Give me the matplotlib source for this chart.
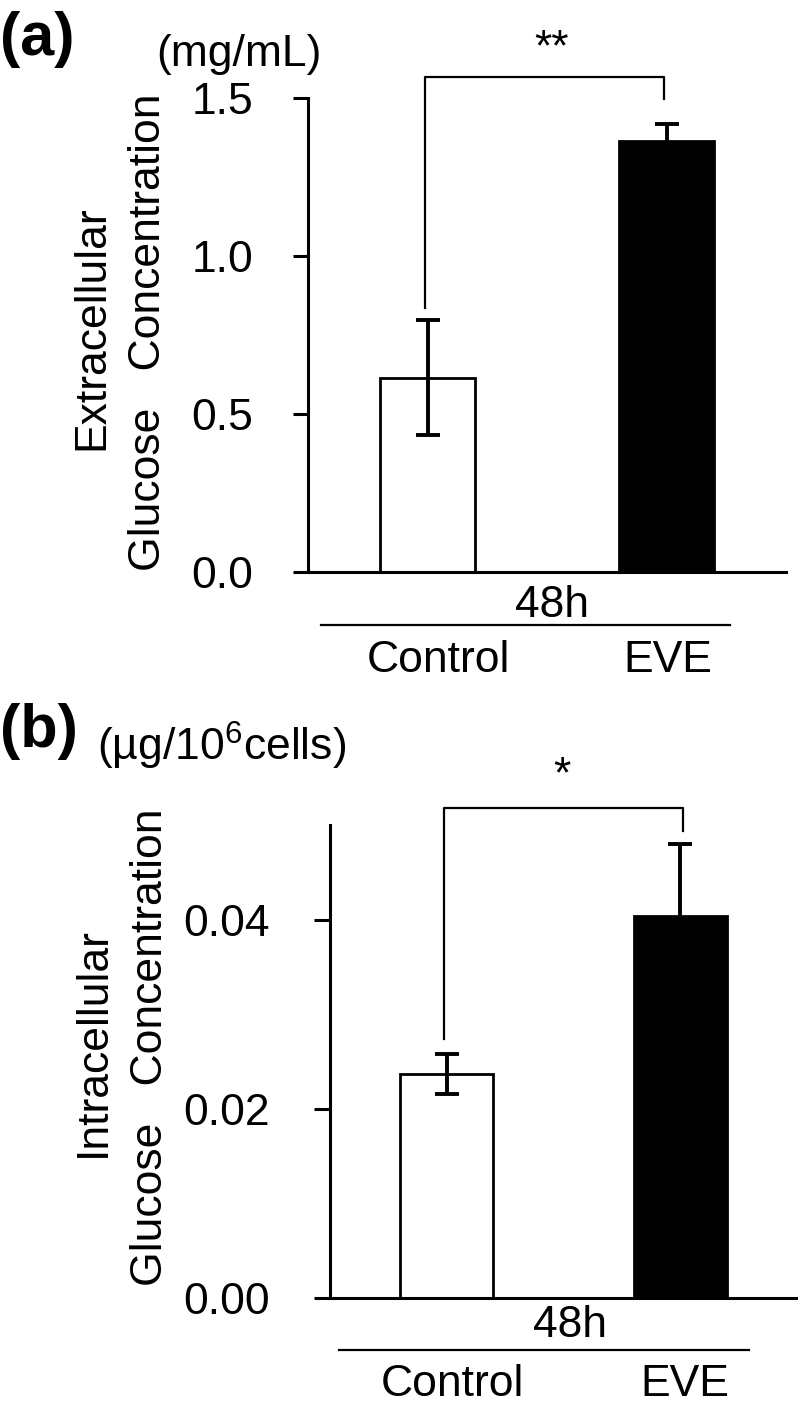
import matplotlib
matplotlib.use("Agg")
import matplotlib.pyplot as plt

# ---------------- data ----------------
categories = ["Control", "EVE"]
group_label = "48h"
extra_mean = [0.614, 1.364]
extra_err = [0.182, 0.054]
intra_mean = [0.0237, 0.0404]
intra_err = [0.0021, 0.0076]
extra_ticks = [0.0, 0.5, 1.0, 1.5]
extra_ticklabels = ["0.0", "0.5", "1.0", "1.5"]
intra_ticks = [0.00, 0.02, 0.04]
intra_ticklabels = ["0.00", "0.02", "0.04"]
bar_colors = ["white", "black"]
extra_sig = "**"
intra_sig = "*"

# ---------------- style ----------------
plt.rcParams['font.family'] = ['Liberation Sans', 'DejaVu Sans']
plt.rcParams['mathtext.fontset'] = 'custom'
plt.rcParams['mathtext.rm'] = 'Liberation Sans'
plt.rcParams['mathtext.it'] = 'Liberation Sans:italic'
plt.rcParams['mathtext.bf'] = 'Liberation Sans:bold'

W, H = 798, 1411
fig = plt.figure(figsize=(W / 100, H / 100), dpi=100)


def fx(px):
    return px / W


def fy(py):
    return 1 - py / H


FS = 32


def panel(left, right, top, bottom, means, errs, ylim, ticks, ticklabels,
          ticklen, tickpad, bracket, sig, sig_xy, grp):
    ax = fig.add_axes([fx(left), fy(bottom), fx(right) - fx(left), fy(top) - fy(bottom)])
    x = list(range(len(categories)))
    ax.bar(x, means, width=0.4, color=bar_colors, edgecolor='black',
           linewidth=2.0, zorder=2)
    ax.errorbar(x, means, yerr=errs, fmt='none', ecolor='black',
                elinewidth=2.8, capsize=8.3, capthick=2.8, zorder=3)
    ax.set_xlim(-0.5, 1.5)
    ax.set_ylim(*ylim)
    ax.set_yticks(ticks)
    ax.set_yticklabels(ticklabels)
    for s in ['top', 'right']:
        ax.spines[s].set_visible(False)
    for s in ['left', 'bottom']:
        ax.spines[s].set_linewidth(2.2)
    ax.tick_params(axis='x', length=0, labelbottom=False)
    ax.tick_params(axis='y', direction='out', length=ticklen, width=2.2,
                   labelsize=FS, pad=tickpad)
    ax.patch.set_alpha(0)

    # significance bracket
    xl, xr, yh, ybl, ybr = bracket
    ax.plot([xl, xl, xr, xr], [ybl, yh, yh, ybr], color='black', lw=1.6,
            clip_on=False, zorder=4)
    ax.text(sig_xy[0], sig_xy[1], sig, ha='center', va='center', fontsize=FS)

    # group label and category labels
    tr = ax.get_xaxis_transform()
    gx, gy, lx0, lx1, ly, cy, cxs = grp
    ax.text(gx, gy, group_label, transform=tr, ha='center', va='baseline', fontsize=FS)
    ax.plot([lx0, lx1], [ly, ly], transform=tr, color='black', lw=1.6, clip_on=False)
    for c, cx in zip(categories, cxs):
        ax.text(cx, cy, c, transform=tr, ha='center', va='baseline', fontsize=FS)
    return ax


# panel (a)
panel(308, 786, 98, 572, extra_mean, extra_err, (0, 1.5), extra_ticks,
      extra_ticklabels, 10.8, 28.8,
      bracket=(-0.01, 0.99, 1.566, 0.835, 1.497), sig=extra_sig, sig_xy=(0.52, 1.655),
      grp=(0.52, -0.095, -0.445, 1.267, -0.112, -0.211, [0.044, 1.004]))

# panel (b)
panel(330, 797, 825, 1298, intra_mean, intra_err, (0, 0.05), intra_ticks,
      intra_ticklabels, 11.5, 32,
      bracket=(-0.01, 1.01, 0.0518, 0.0274, 0.0494), sig=intra_sig, sig_xy=(0.495, 0.0552),
      grp=(0.529, -0.082, -0.46, 1.295, -0.110, -0.207, [0.024, 1.021]))

# y-axis labels (two rotated lines each)
fig.text(fx(103), fy(328), "Extracellular", rotation=90, rotation_mode='anchor',
         ha='center', va='baseline', fontsize=FS)
fig.text(fx(160), fy(332), "Glucose   Concentration", rotation=90, rotation_mode='anchor',
         ha='center', va='baseline', fontsize=FS)
fig.text(fx(105), fy(1042), "Intracellular", rotation=90, rotation_mode='anchor',
         ha='center', va='baseline', fontsize=FS)
fig.text(fx(162), fy(1047), "Glucose   Concentration", rotation=90, rotation_mode='anchor',
         ha='center', va='baseline', fontsize=FS)

# panel letters and units
fig.text(fx(0), fy(55), "(a)", fontsize=44, fontweight='bold', ha='left', va='baseline')
fig.text(fx(156), fy(66), "(mg/mL)", fontsize=FS, ha='left', va='baseline')
fig.text(fx(0), fy(747), "(b)", fontsize=44, fontweight='bold', ha='left', va='baseline')
fig.text(fx(97), fy(761), r"(µg/10$^{6}$cells)", fontsize=FS, ha='left', va='baseline')

fig.savefig("out.png", dpi=100)
